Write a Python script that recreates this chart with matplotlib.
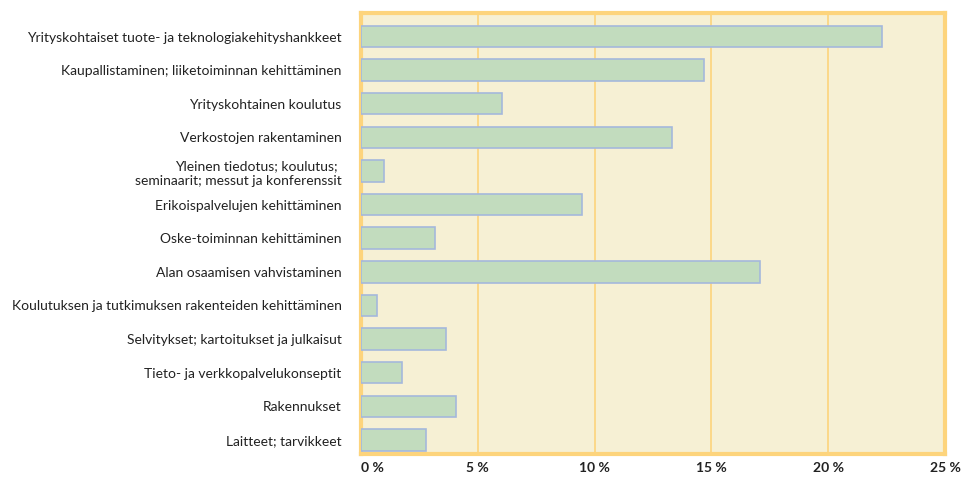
import matplotlib
matplotlib.use("Agg")
import matplotlib.pyplot as plt
from matplotlib.ticker import FixedLocator

categories = [
    "Yrityskohtaiset tuote- ja teknologiakehityshankkeet",
    "Kaupallistaminen; liiketoiminnan kehittäminen",
    "Yrityskohtainen koulutus",
    "Verkostojen rakentaminen",
    "Yleinen tiedotus; koulutus; \nseminaarit; messut ja konferenssit",
    "Erikoispalvelujen kehittäminen",
    "Oske-toiminnan kehittäminen",
    "Alan osaamisen vahvistaminen",
    "Koulutuksen ja tutkimuksen rakenteiden kehittäminen",
    "Selvitykset; kartoitukset ja julkaisut",
    "Tieto- ja verkkopalvelukonseptit",
    "Rakennukset",
    "Laitteet; tarvikkeet",
]
values = [22.3, 14.7, 6.05, 13.3, 1.0, 9.45, 3.15, 17.1, 0.7, 3.65, 1.75, 4.05, 2.8]
tick_values = [0, 5, 10, 15, 20, 25]
tick_labels = ["0 %", "5 %", "10 %", "15 %", "20 %", "25 %"]

plt.rcParams['font.family'] = ['Lato', 'DejaVu Sans']

fig = plt.figure(figsize=(9.65, 4.79), dpi=100)
ax = fig.add_axes([0.3741, 0.0522, 0.6052, 0.9207])

bg = "#F6F0D4"
bar_c = "#C2DCBE"
edge_c = "#A5B8DC"
grid_c = "#FDD47C"

ax.set_facecolor(bg)
y = list(range(len(categories)))
ax.barh(y, values, height=0.64, color=bar_c, edgecolor=edge_c, linewidth=1.2, zorder=3)
ax.set_ylim(12.42, -0.70)
ax.set_xlim(0, 25)

ax.xaxis.set_major_locator(FixedLocator(tick_values))
ax.set_xticklabels(tick_labels, fontsize=10, fontweight='bold', color='#222222')
ax.get_xticklabels()[0].set_ha('left')
ax.set_yticks(y)
ax.set_yticklabels(categories, fontsize=10, color='#222222', linespacing=1.35)
ax.tick_params(axis='both', length=0)
ax.tick_params(axis='y', pad=14)
ax.tick_params(axis='x', pad=6)

ax.grid(axis='x', color=grid_c, linewidth=1.2, zorder=1)
for s in ax.spines.values():
    s.set_color(grid_c)
    s.set_linewidth(3)

fig.savefig("out.png", dpi=100)
